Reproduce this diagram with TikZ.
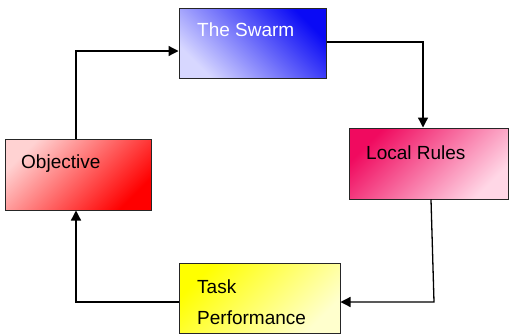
\documentclass[tikz,border=0pt]{standalone}
\usepackage{fontspec}
\setmainfont{Liberation Sans}
\usetikzlibrary{arrows.meta}
\definecolor{swarmdark}{RGB}{10,10,245}
\definecolor{swarmlight}{RGB}{215,215,255}
\definecolor{rulesdark}{RGB}{240,10,95}
\definecolor{ruleslight}{RGB}{255,215,230}
\definecolor{objlight}{RGB}{255,210,210}
\definecolor{objdark}{RGB}{255,0,0}
\definecolor{taskdark}{RGB}{255,255,0}
\definecolor{tasklight}{RGB}{255,255,205}
\tikzset{
  box/.style={rectangle, draw=black!85, line width=1pt, inner sep=0pt},
  lbl/.style={anchor=base west, inner sep=0pt, font=\fontsize{19}{31}\selectfont, align=left},
  arr/.style={line width=1.3pt, -{Triangle[length=10pt,width=10pt]}}
}
\begin{document}
\begin{tikzpicture}[x=1pt,y=-1pt]
\useasboundingbox (0,0) rectangle (509,335);
\node[box, minimum width=147pt, minimum height=70pt, top color=swarmdark, bottom color=swarmlight, shading angle=-45] (swarm) at (252.5,43) {};
\node[box, minimum width=159pt, minimum height=71pt, top color=rulesdark, bottom color=ruleslight, shading angle=45] (rules) at (428.5,163.5) {};
\node[box, minimum width=146pt, minimum height=71pt, top color=objlight, bottom color=objdark, shading angle=45] (obj) at (78,174.5) {};
\node[box, minimum width=161pt, minimum height=70pt, top color=taskdark, bottom color=tasklight, shading angle=45] (task) at (259.5,298) {};
\node[lbl, text=white] (tswarm) at (197,36) {The Swarm};
\node[lbl] (trules) at (366,159) {Local Rules};
\node[lbl] (tobj) at (21,168) {Objective};
\node[lbl] (ttask) at (197,324) {Task\\Performance};
\coordinate (c1) at (76,51);
\coordinate (c2) at (423,42);
\coordinate (c3) at (434,302);
\coordinate (c4) at (76,302);
\draw[arr] (obj.north -| c1) -- (c1) -- (swarm.west |- c1);
\draw[arr] (swarm.east |- c2) -- (c2) -- (rules.north -| c2);
\draw[arr] (rules.south -| 431,0) -- (c3) -- (task.east |- c3);
\draw[arr] (task.west |- c4) -- (c4) -- (obj.south -| c4);
\end{tikzpicture}
\end{document}
